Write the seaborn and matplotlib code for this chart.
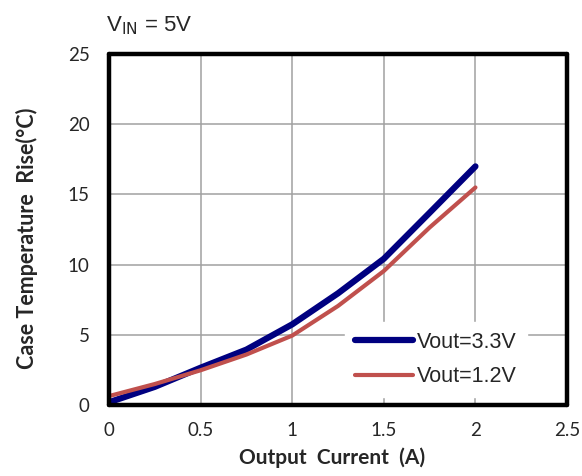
import matplotlib
matplotlib.use("Agg")
import matplotlib.pyplot as plt
import seaborn as sns
import pandas as pd

current = [0.0, 0.25, 0.5, 0.75, 1.0, 1.25, 1.5, 1.75, 2.0]
rise_33 = [0.2, 1.3, 2.66, 3.95, 5.75, 7.96, 10.42, 13.7, 17.0]
rise_12 = [0.64, 1.5, 2.48, 3.6, 4.95, 7.06, 9.55, 12.65, 15.5]
series = ["Vout=3.3V", "Vout=1.2V"]
x_ticks = [0, 0.5, 1, 1.5, 2, 2.5]
y_ticks = [0, 5, 10, 15, 20, 25]

df = pd.DataFrame({
    "current": current * 2,
    "rise": rise_33 + rise_12,
    "series": [series[0]] * len(current) + [series[1]] * len(current),
})

sns.set_style("white")
plt.rcParams["font.family"] = ["Lato", "DejaVu Sans"]

fig = plt.figure(figsize=(5.82, 4.76), dpi=100)
ax = fig.add_axes([0.1873, 0.149, 0.787, 0.7374])

sns.lineplot(data=df, x="current", y="rise", hue="series", size="series",
             palette={series[0]: "#000080", series[1]: "#C0504D"},
             sizes={series[0]: 4.5, series[1]: 3.0},
             ax=ax, legend=True, solid_capstyle="round", solid_joinstyle="round")

ax.set_xlim(0, 2.5)
ax.set_ylim(0, 25)
ax.set_xticks(x_ticks)
ax.set_xticklabels([f"{t:g}" for t in x_ticks])
ax.set_yticks(y_ticks)
ax.grid(True, color="#A0A0A0", linewidth=1.1)
ax.set_axisbelow(True)
ax.tick_params(length=0, labelsize=13.5)
ax.tick_params(axis="y", pad=14)
ax.tick_params(axis="x", pad=12)
for s in ax.spines.values():
    s.set_visible(True)
    s.set_color("black")
    s.set_linewidth(3.2)
    s.set_capstyle("round")
    s.set_zorder(6)

ax.set_xlabel("Output  Current  (A)", fontsize=15, fontweight="bold")
ax.set_ylabel("Case Temperature  Rise(°C)", fontsize=15.5, fontweight="bold")
ax.xaxis.set_label_coords(0.487, -0.12)
ax.yaxis.set_label_coords(-0.156, 0.474)

handles, labels = ax.get_legend_handles_labels()
leg = ax.legend(handles, labels, loc="center", bbox_to_anchor=(0.714, 0.130),
                frameon=True, facecolor="white", edgecolor="white", framealpha=1,
                handlelength=2.7, handletextpad=0.2, labelspacing=0.62,
                prop={"family": "Liberation Sans", "size": 15.5}, borderpad=0.45,
                fancybox=False)
for line in leg.get_lines():
    line.set_solid_capstyle("round")

fig.text(0.182, 0.935, "V$_{\\mathrm{IN}}$ = 5V", fontsize=16, family="Liberation Sans",
         va="baseline")

fig.savefig("out.png", dpi=100)
